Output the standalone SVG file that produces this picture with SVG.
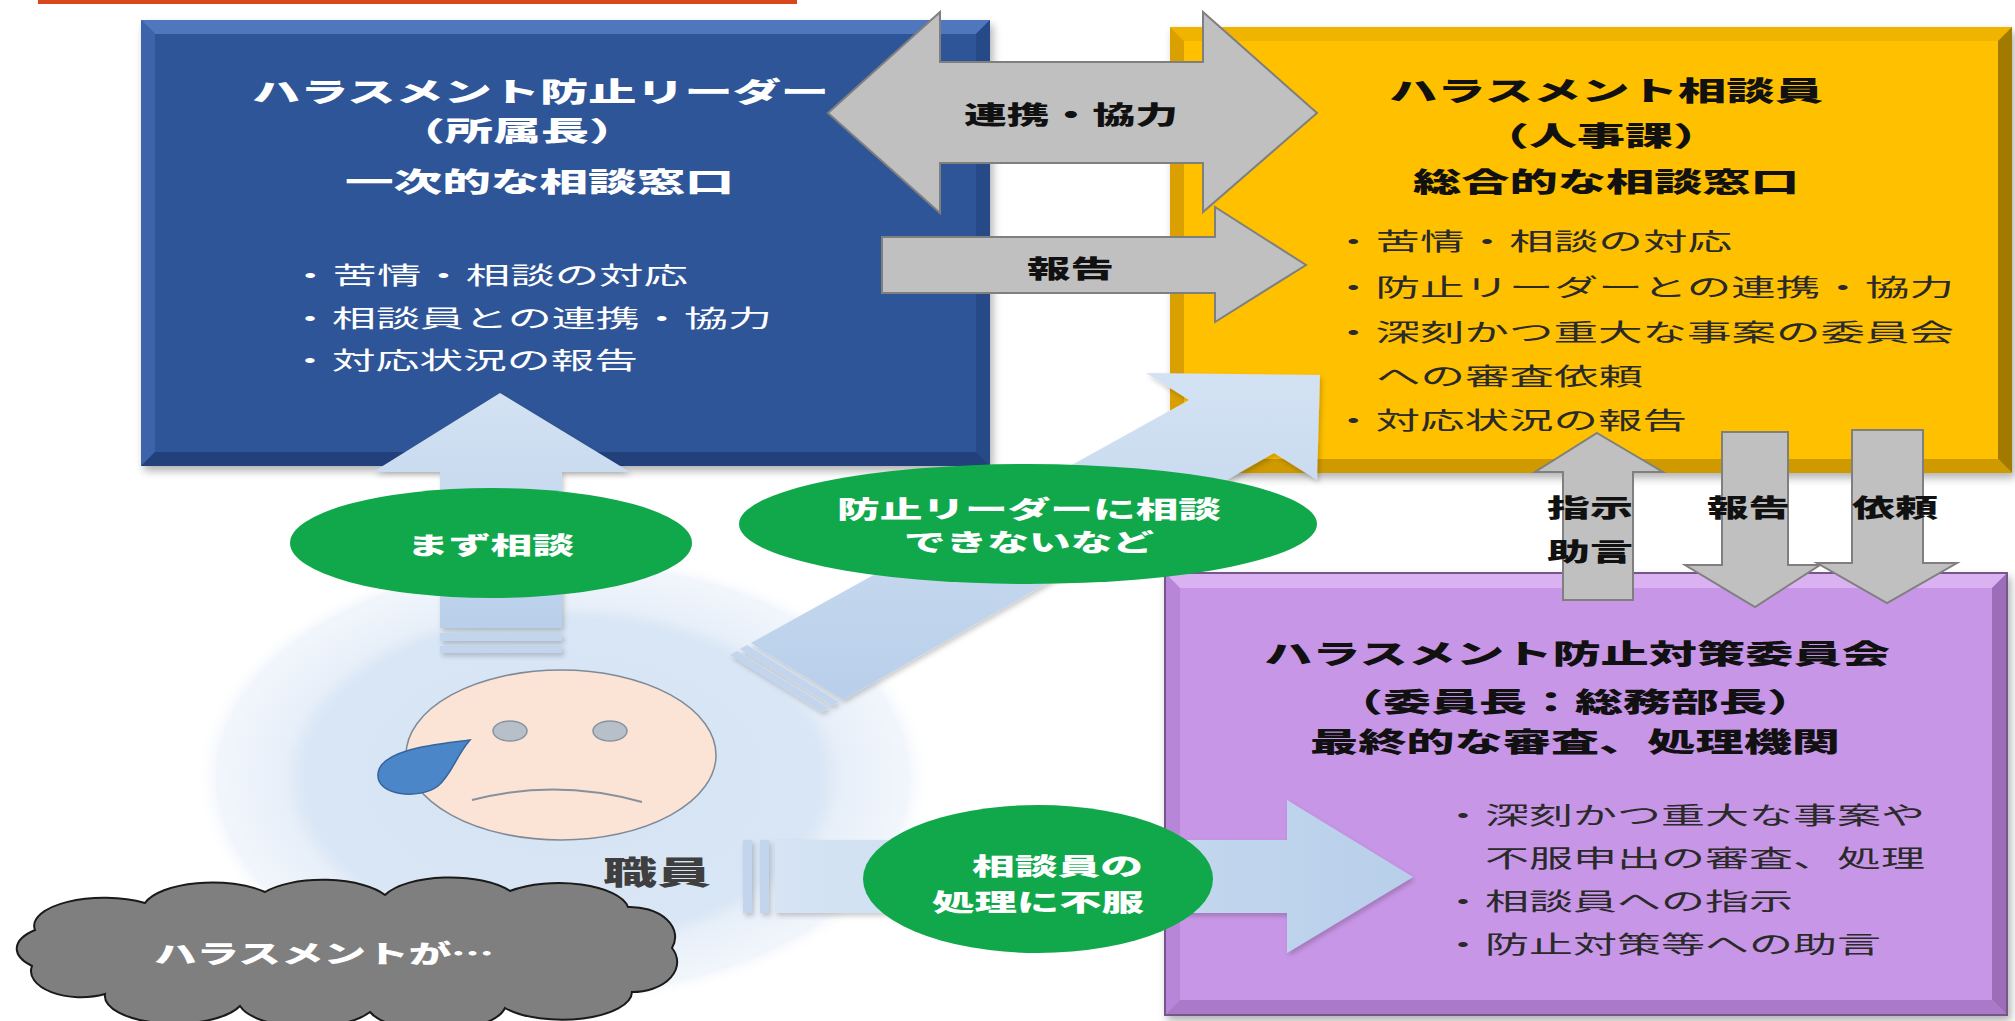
<svg xmlns="http://www.w3.org/2000/svg" width="2015" height="1021" viewBox="0 0 2015 1021">
  <defs>
    <style>
      .t { font-family: "Noto Sans CJK JP", "Noto Sans", sans-serif; dominant-baseline: central; }
      .title { font-size: 27px; font-weight: 900; }
      .bul { font-size: 24px; font-weight: 400; }
      .lbl { font-size: 25px; font-weight: 900; fill: #111; }
      .glbl { font-size: 24px; font-weight: 900; fill: #fff; }
      .gray { fill: #c0c0c0; stroke: #7f7f7f; stroke-width: 2; stroke-linejoin: miter; }
      .lb { fill: url(#lbGrad); }
      .lbs { fill: #c2d5ec; }
      .green { fill: #10a84b; }
    </style>
    <radialGradient id="glow" cx="0.5" cy="0.5" r="0.5">
      <stop offset="0" stop-color="#d4e3f4"/>
      <stop offset="0.7" stop-color="#d9e6f5"/>
      <stop offset="0.76" stop-color="#e7eff9"/>
      <stop offset="0.94" stop-color="#f2f6fc"/>
      <stop offset="1" stop-color="#ffffff" stop-opacity="0"/>
    </radialGradient>
    <linearGradient id="lbGrad" x1="0" y1="0" x2="0" y2="1">
      <stop offset="0" stop-color="#d3e2f3"/>
      <stop offset="1" stop-color="#b9cfea"/>
    </linearGradient>
    <linearGradient id="lbGradH" x1="0" y1="0" x2="1" y2="0">
      <stop offset="0" stop-color="#d6e4f4"/>
      <stop offset="1" stop-color="#b8cfea"/>
    </linearGradient>
    <filter id="shadow" x="-5%" y="-5%" width="112%" height="115%">
      <feDropShadow dx="3" dy="5" stdDeviation="4" flood-color="#000" flood-opacity="0.3"/>
    </filter>
    <filter id="soft" x="-5%" y="-5%" width="110%" height="110%">
      <feDropShadow dx="2" dy="3" stdDeviation="2.5" flood-color="#000" flood-opacity="0.2"/>
    </filter>
  </defs>

  <rect width="2015" height="1021" fill="#ffffff"/>
  <!-- top accent rule -->
  <rect x="38" y="0" width="759" height="4" fill="#d9471c"/>

  <!-- halo behind the staff member -->
  <ellipse cx="563" cy="778" rx="368" ry="228" fill="url(#glow)"/>

  <!-- staff member -->
  <g id="staff">
    <ellipse cx="561" cy="755" rx="155" ry="85" fill="#fbe4d5" stroke="#7f8a98" stroke-width="1.5"/>
    <ellipse cx="510" cy="731" rx="17" ry="10" fill="#b7bfc9" stroke="#8794a3" stroke-width="1.5"/>
    <ellipse cx="610" cy="731" rx="17" ry="10" fill="#b7bfc9" stroke="#8794a3" stroke-width="1.5"/>
    <path d="M470,740 C442,744 380,748 378,774 C376,796 420,800 438,786 C452,774 456,756 470,740 Z" fill="#4a86c8" stroke="#36659e" stroke-width="1.5"/>
    <path d="M472,800 Q556,778 642,802" fill="none" stroke="#8591a0" stroke-width="2"/>
    <text class="t" x="603" y="870" font-size="32" font-weight="900" fill="#3f3f3f" textLength="108" lengthAdjust="spacingAndGlyphs">職員</text>
  </g>

  <!-- harassment cloud -->
  <g id="cloud">
    <path d="M35,930 A70 28 0 0 1 145,903 A70 28 0 0 1 265,892 A70 28 0 0 1 385,895 A70 28 0 0 1 510,891 A70 28 0 0 1 628,907 A45 30 0 0 1 672,948 A45 30 0 0 1 632,992 A70 28 0 0 1 505,1008 A70 28 0 0 1 370,1012 A70 28 0 0 1 240,1006 A70 28 0 0 1 105,994 A50 26 0 0 1 32,966 A60 26 0 0 1 35,930 Z" fill="#7f7f7f" stroke="#1a1a1a" stroke-width="2"/>
    <text class="t" x="154" y="952" font-size="25" font-weight="900" fill="#ffffff" textLength="340" lengthAdjust="spacingAndGlyphs">ハラスメントが…</text>
  </g>

  <!-- harassment prevention leader -->
  <g id="leader" filter="url(#shadow)">
    <rect x="141" y="20" width="849" height="446" fill="#2f5597"/>
    <polygon points="141,20 990,20 976,34 155,34" fill="#5077bd"/>
    <polygon points="141,20 155,34 155,452 141,466" fill="#3e64ab"/>
    <polygon points="990,20 990,466 976,452 976,34" fill="#284a88"/>
    <polygon points="141,466 990,466 976,452 155,452" fill="#22407a"/>
  </g>
  <g id="leader-text" fill="#ffffff">
    <text class="t title" x="252" y="90" textLength="577" lengthAdjust="spacingAndGlyphs">ハラスメント防止リーダー</text>
    <text class="t title" x="397" y="129" textLength="240" lengthAdjust="spacingAndGlyphs">（所属長）</text>
    <text class="t title" x="345" y="180" textLength="389" lengthAdjust="spacingAndGlyphs">一次的な相談窓口</text>
    <text class="t bul" x="288" y="273" textLength="400" lengthAdjust="spacingAndGlyphs">・苦情・相談の対応</text>
    <text class="t bul" x="288" y="316" textLength="484" lengthAdjust="spacingAndGlyphs">・相談員との連携・協力</text>
    <text class="t bul" x="288" y="358" textLength="350" lengthAdjust="spacingAndGlyphs">・対応状況の報告</text>
  </g>

  <!-- harassment counsellor -->
  <g id="counsellor" filter="url(#shadow)">
    <rect x="1170" y="27" width="842" height="446" fill="#ffc000"/>
    <polygon points="1170,27 2012,27 1998,41 1184,41" fill="#f0b300"/>
    <polygon points="1170,27 1184,41 1184,459 1170,473" fill="#d9a000"/>
    <polygon points="2012,27 2012,473 1998,459 1998,41" fill="#a27a00"/>
    <polygon points="1170,473 2012,473 1998,459 1184,459" fill="#cf9a00"/>
  </g>
  <g id="counsellor-text">
    <g fill="#111111">
      <text class="t title" x="1389" y="89" textLength="434" lengthAdjust="spacingAndGlyphs">ハラスメント相談員</text>
      <text class="t title" x="1481" y="134" textLength="240" lengthAdjust="spacingAndGlyphs">（人事課）</text>
      <text class="t title" x="1413" y="180" textLength="386" lengthAdjust="spacingAndGlyphs">総合的な相談窓口</text>
    </g>
    <g fill="#2a2a2a">
      <text class="t bul" x="1331" y="239" textLength="401" lengthAdjust="spacingAndGlyphs">・苦情・相談の対応</text>
      <text class="t bul" x="1331" y="285" textLength="623" lengthAdjust="spacingAndGlyphs">・防止リーダーとの連携・協力</text>
      <text class="t bul" x="1331" y="330" textLength="623" lengthAdjust="spacingAndGlyphs">・深刻かつ重大な事案の委員会</text>
      <text class="t bul" x="1376" y="374" textLength="267" lengthAdjust="spacingAndGlyphs">への審査依頼</text>
      <text class="t bul" x="1331" y="418" textLength="356" lengthAdjust="spacingAndGlyphs">・対応状況の報告</text>
    </g>
  </g>

  <!-- prevention committee -->
  <g id="committee" filter="url(#shadow)">
    <rect x="1165" y="573" width="842" height="442" fill="#c896e6" stroke="#765589" stroke-width="2"/>
    <polygon points="1166,574 2006,574 1992,588 1180,588" fill="#dab2f1"/>
    <polygon points="1166,574 1180,588 1180,1000 1166,1014" fill="#b886d8"/>
    <polygon points="2006,574 2006,1014 1992,1000 1992,588" fill="#9c6eba"/>
    <polygon points="1166,1014 2006,1014 1992,1000 1180,1000" fill="#a87ac8"/>
  </g>
  <g id="committee-text">
    <g fill="#111111">
      <text class="t title" x="1264" y="652" textLength="626" lengthAdjust="spacingAndGlyphs">ハラスメント防止対策委員会</text>
      <text class="t title" x="1335" y="700" textLength="480" lengthAdjust="spacingAndGlyphs">（委員長：総務部長）</text>
      <text class="t title" x="1310" y="740" textLength="530" lengthAdjust="spacingAndGlyphs">最終的な審査、処理機関</text>
    </g>
    <g fill="#2a2a2a">
      <text class="t bul" x="1441" y="813" textLength="484" lengthAdjust="spacingAndGlyphs">・深刻かつ重大な事案や</text>
      <text class="t bul" x="1485" y="856" textLength="440" lengthAdjust="spacingAndGlyphs">不服申出の審査、処理</text>
      <text class="t bul" x="1441" y="899" textLength="352" lengthAdjust="spacingAndGlyphs">・相談員への指示</text>
      <text class="t bul" x="1441" y="942" textLength="440" lengthAdjust="spacingAndGlyphs">・防止対策等への助言</text>
    </g>
  </g>

  <!-- connectors -->
  <g id="connectors">
    <!-- staff to leader -->
    <g filter="url(#soft)">
      <polygon class="lb" points="500,393 630,472 562,472 562,628 440,628 440,472 373,472"/>
      <rect class="lbs" x="440" y="633" width="122" height="8"/>
      <rect class="lbs" x="440" y="646" width="122" height="7"/>
    </g>
    <!-- staff to counsellor -->
    <g filter="url(#soft)">
      <polygon class="lb" points="751,643 1189,400 1146,373 1320,375 1317,480 1274,453 843,700"/>
      <polygon class="lbs" points="730,655 822,712 829,708 737,651"/>
      <polygon class="lbs" points="740,649 832,706 839,702 747,645"/>
    </g>
    <!-- staff to committee -->
    <g filter="url(#soft)">
      <polygon fill="url(#lbGradH)" points="775,840 1287,840 1287,800 1413,877 1287,953 1287,913 775,913"/>
      <rect class="lbs" x="743" y="840" width="9" height="73"/>
      <rect class="lbs" x="760" y="840" width="9" height="73"/>
    </g>

    <!-- leader <-> counsellor -->
    <polygon class="gray" points="828,113 940,12 940,62 1203,62 1203,12 1317,113 1203,212 1203,163 940,163 940,213"/>
    <text class="t lbl" x="964" y="113" textLength="214" lengthAdjust="spacingAndGlyphs">連携・協力</text>
    <!-- leader reports to counsellor -->
    <polygon class="gray" points="882,237 1215,237 1215,207 1306,265 1215,322 1215,293 882,293"/>
    <text class="t lbl" x="1027" y="267" textLength="87" lengthAdjust="spacingAndGlyphs">報告</text>

    <!-- committee instructs counsellor -->
    <polygon class="gray" points="1597,433 1663,472 1633,472 1633,600 1563,600 1563,472 1535,472"/>
    <text class="t lbl" x="1547" y="506" textLength="86" lengthAdjust="spacingAndGlyphs">指示</text>
    <text class="t lbl" x="1547" y="550" textLength="86" lengthAdjust="spacingAndGlyphs">助言</text>
    <!-- counsellor reports to committee -->
    <polygon class="gray" points="1722,432 1788,432 1788,565 1820,565 1755,607 1685,565 1722,565"/>
    <text class="t lbl" x="1707" y="506" textLength="83" lengthAdjust="spacingAndGlyphs">報告</text>
    <!-- counsellor requests committee review -->
    <polygon class="gray" points="1852,430 1923,430 1923,563 1957,563 1887,603 1817,563 1852,563"/>
    <text class="t lbl" x="1852" y="506" textLength="86" lengthAdjust="spacingAndGlyphs">依頼</text>
  </g>

  <!-- route labels -->
  <g id="label-first">
    <ellipse class="green" cx="491" cy="543" rx="201" ry="55"/>
    <text class="t glbl" x="407" y="543" textLength="167" lengthAdjust="spacingAndGlyphs">まず相談</text>
  </g>
  <g id="label-bypass">
    <ellipse class="green" cx="1028" cy="524" rx="289" ry="60"/>
    <text class="t glbl" x="837" y="507" font-size="21" textLength="384" lengthAdjust="spacingAndGlyphs">防止リーダーに相談</text>
    <text class="t glbl" x="904" y="540" font-size="21" textLength="250" lengthAdjust="spacingAndGlyphs">できないなど</text>
  </g>
  <g id="label-appeal">
    <ellipse class="green" cx="1038" cy="879" rx="175" ry="74"/>
    <text class="t glbl" x="972" y="864" font-size="22" textLength="171" lengthAdjust="spacingAndGlyphs">相談員の</text>
    <text class="t glbl" x="932" y="900" font-size="22" textLength="212" lengthAdjust="spacingAndGlyphs">処理に不服</text>
  </g>
</svg>
